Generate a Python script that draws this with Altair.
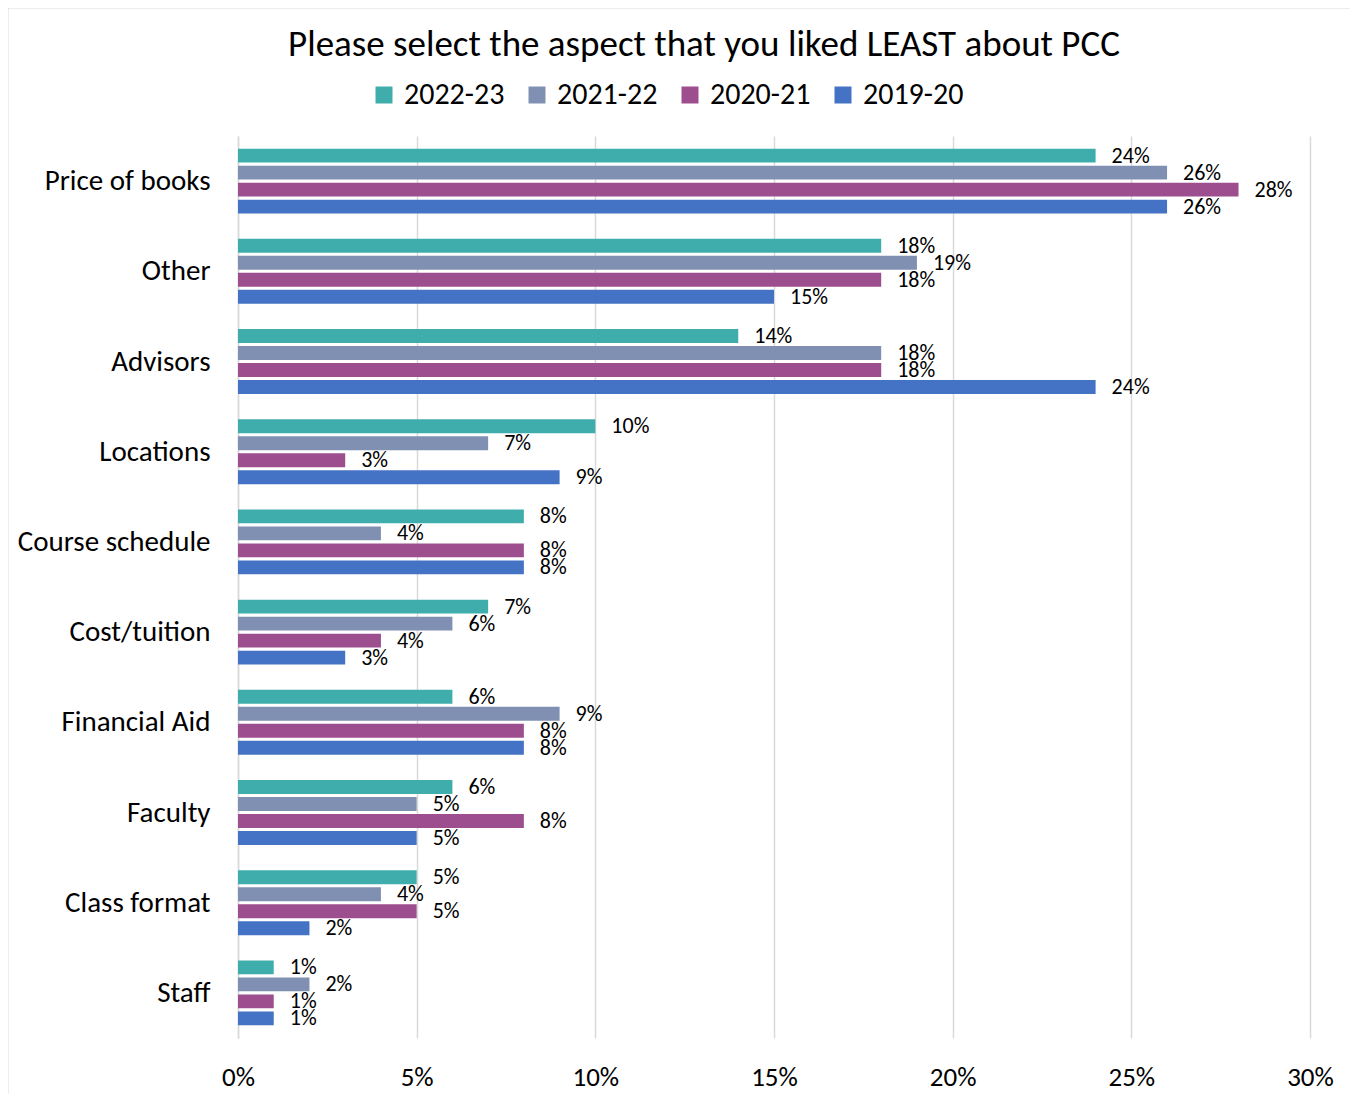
import altair as alt
import pandas as pd

categories = ["Price of books", "Other", "Advisors", "Locations", "Course schedule",
              "Cost/tuition", "Financial Aid", "Faculty", "Class format", "Staff"]
series = ["2022-23", "2021-22", "2020-21", "2019-20"]
v2022_23 = [24, 18, 14, 10, 8, 7, 6, 6, 5, 1]
v2021_22 = [26, 19, 18, 7, 4, 6, 9, 5, 4, 2]
v2020_21 = [28, 18, 18, 3, 8, 4, 8, 8, 5, 1]
v2019_20 = [26, 15, 24, 9, 8, 3, 8, 5, 2, 1]
colors = ["#40ADAD", "#8090B3", "#9D4E8E", "#4472C4"]
x_ticks = [0, 0.05, 0.10, 0.15, 0.20, 0.25, 0.30]

FONT = "Carlito, Lato, sans-serif"

rows = []
for s, vals in zip(series, [v2022_23, v2021_22, v2020_21, v2019_20]):
    for c, v in zip(categories, vals):
        rows.append({"category": c, "series": s, "value": v / 100})
df = pd.DataFrame(rows)

y_enc = alt.Y("category:N", sort=categories,
              scale=alt.Scale(paddingInner=0.28, paddingOuter=0.14),
              axis=alt.Axis(title=None, labelFontSize=29, labelPadding=28, ticks=False,
                            domainColor="#d9d9d9", domainWidth=1.5, labelColor="black",
                            labelFont=FONT, labelLimit=400))
yoff_enc = alt.YOffset("series:N", sort=series,
                       scale=alt.Scale(paddingInner=0.18, paddingOuter=0))
x_enc = alt.X("value:Q", scale=alt.Scale(domain=[0, 0.30], nice=False),
              axis=alt.Axis(values=x_ticks, format=".0%", grid=True, gridColor="#d9d9d9",
                            gridWidth=1.5, domain=False, ticks=False, labelFontSize=27,
                            labelPadding=26, title=None, labelColor="black", labelFont=FONT,
                            labelFlush=False))

bars = alt.Chart(df).mark_bar().encode(
    x=x_enc, y=y_enc, yOffset=yoff_enc,
    color=alt.Color("series:N", sort=series,
                    scale=alt.Scale(domain=series, range=colors),
                    legend=alt.Legend(orient="none", legendX=131, legendY=-56,
                                      direction="horizontal", title=None,
                                      symbolType="square", symbolSize=289,
                                      symbolStrokeWidth=0, labelFontSize=30,
                                      labelFont=FONT, labelColor="black",
                                      columnPadding=17, labelOffset=5))
)

labels = alt.Chart(df).mark_text(align="left", baseline="middle", dx=16, fontSize=22,
                                 font=FONT, color="black").encode(
    x=alt.X("value:Q"), y=alt.Y("category:N", sort=categories), yOffset=alt.YOffset("series:N", sort=series),
    text=alt.Text("value:Q", format=".0%")
)

# light chart-area frame (top and left edges), as in the reference
frame_df = pd.DataFrame({"k": [0]})
frame_top = alt.Chart(frame_df).mark_rule(color="#dcdcdc", strokeWidth=2).encode(
    x=alt.value(-231), x2=alt.value(1140), y=alt.value(-128.5))
frame_left = alt.Chart(frame_df).mark_rule(color="#dcdcdc", strokeWidth=2).encode(
    x=alt.value(-230.5), y=alt.value(-129), y2=alt.value(970))

chart = alt.layer(frame_top, frame_left, bars, labels).properties(
    width=1072, height=902,
    title=alt.TitleParams(text="Please select the aspect that you liked LEAST about PCC",
                          fontSize=37, font=FONT, fontWeight="normal", color="black",
                          anchor="middle", dx=-70, offset=-58),
    padding={"left": 230, "top": 128, "right": 40, "bottom": 60},
    autosize=alt.AutoSizeParams(type="none"),
).configure_view(stroke=None)

chart.save("out.html", embed_options={"renderer": "svg", "actions": False})
